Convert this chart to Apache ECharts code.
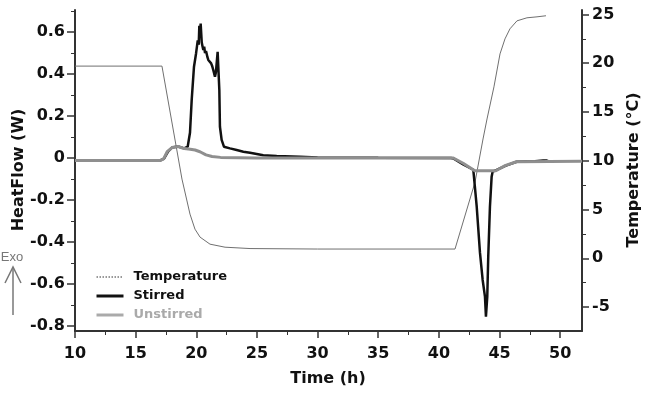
<!DOCTYPE html>
<html>
<head>
<meta charset="utf-8">
<script src="https://cdn.jsdelivr.net/npm/echarts@6/dist/echarts.min.js"></script>
<style>html,body{margin:0;padding:0;background:#fff}#c{width:650px;height:394px}</style>
</head>
<body>
<div id="c"></div>
<script>
// ---- data ----
var tempTime  = [10, 17.17, 18.82, 19.48, 19.89, 20.31, 21.13, 22.37, 24.43, 30, 41.33, 42.98, 43.64, 43.97, 44.54, 45.04, 45.45, 45.86, 46.44, 47.26, 48.09, 48.83];
var tempValue = [19.7, 19.7, 8.12, 4.53, 2.99, 2.17, 1.45, 1.14, 1.0, 0.95, 0.95, 7.81, 12.23, 14.28, 17.57, 20.95, 22.49, 23.52, 24.34, 24.65, 24.75, 24.86];

var stirredTime = [10, 17.0, 17.34, 17.67, 18.0, 18.5, 19.0, 19.29, 19.48, 19.62, 19.81, 19.98, 20.12, 20.2, 20.25, 20.3, 20.36, 20.45, 20.52, 20.58, 20.65, 20.72, 20.8, 20.86, 20.92, 20.99, 21.1, 21.21, 21.3, 21.4, 21.54, 21.62, 21.68, 21.76, 21.85, 21.9, 21.95, 22.09, 22.28, 22.78, 23.33, 23.88, 24.43, 24.98, 25.52, 26.63, 28.55, 30, 35, 41.0, 41.19, 42.0, 42.84, 42.89, 43.12, 43.39, 43.61, 43.80, 43.88, 43.99, 44.07, 44.21, 44.35, 44.43, 44.76, 45.53, 46.41, 47.92, 48.6, 48.75, 48.9, 49.0];
var stirredFlow = [-0.012, -0.012, -0.003, 0.03, 0.05, 0.055, 0.046, 0.054, 0.12, 0.276, 0.435, 0.498, 0.56, 0.54, 0.63, 0.58, 0.64, 0.55, 0.53, 0.515, 0.53, 0.5, 0.51, 0.495, 0.48, 0.467, 0.47, 0.452, 0.44, 0.419, 0.387, 0.41, 0.419, 0.506, 0.5, 0.324, 0.149, 0.086, 0.054, 0.046, 0.038, 0.03, 0.025, 0.019, 0.013, 0.01, 0.006, 0.003, 0.001, 0.0, -0.002, -0.03, -0.056, -0.065, -0.232, -0.452, -0.581, -0.66, -0.756, -0.66, -0.47, -0.232, -0.089, -0.065, -0.057, -0.036, -0.018, -0.015, -0.012, -0.004, -0.012, -0.015];

var unstirredTime = [10, 17.0, 17.3, 17.6, 18.0, 18.5, 19.0, 19.5, 19.9, 20.3, 20.8, 21.3, 22.0, 25, 30, 35, 41.0, 41.19, 42.0, 42.8, 43.0, 44.7, 45.5, 46.4, 51.8];
var unstirredFlow = [-0.012, -0.012, -0.004, 0.03, 0.05, 0.055, 0.045, 0.042, 0.038, 0.03, 0.015, 0.007, 0.003, 0.0, 0.0, 0.0, 0.0, 0.0, -0.025, -0.055, -0.061, -0.061, -0.035, -0.018, -0.016];

var xTicks = [10, 15, 20, 25, 30, 35, 40, 45, 50];
var xMinorTicks = [12.5, 17.5, 22.5, 27.5, 32.5, 37.5, 42.5, 47.5];
var flowTicks = [-0.8, -0.6, -0.4, -0.2, 0, 0.2, 0.4, 0.6];
var flowMinorTicks = [-0.7, -0.5, -0.3, -0.1, 0.1, 0.3, 0.5, 0.7];
var tempTicks = [-5, 0, 5, 10, 15, 20, 25];
var tempMinorTicks = [-7.5, -2.5, 2.5, 7.5, 12.5, 17.5, 22.5];

function zip(a, b) { return a.map(function (v, i) { return [v, b[i]]; }); }

var FONT = 'DejaVu Sans';
var AX = '#333';
var X_MIN = 10, X_MAX = 51.8, F_MIN = -0.824, F_MAX = 0.705, T_MIN = -7.45, T_MAX = 25.45;
var LABEL = { fontFamily: FONT, fontWeight: 'bold', fontSize: 16, color: '#111' };

var chart = echarts.init(document.getElementById('c'), null, { renderer: 'canvas' });
chart.setOption({
  animation: false,
  backgroundColor: '#fff',
  grid: { left: 75, right: 68, top: 10, bottom: 63 },
  xAxis: [
    {
      type: 'value', min: X_MIN, max: X_MAX, position: 'bottom',
      axisLine: { show: true, onZero: false, lineStyle: { color: AX, width: 2 } },
      axisTick: { show: true, customValues: xTicks, length: 7, lineStyle: { color: AX, width: 1.5 } },
      axisLabel: Object.assign({ customValues: xTicks, margin: 15 }, LABEL),
      splitLine: { show: false }
    },
    {
      type: 'value', min: X_MIN, max: X_MAX, position: 'bottom',
      axisLine: { show: false, onZero: false },
      axisTick: { show: true, customValues: xMinorTicks, length: 4, lineStyle: { color: AX, width: 1 } },
      axisLabel: { show: false }, splitLine: { show: false }
    }
  ],
  yAxis: [
    {
      type: 'value', min: F_MIN, max: F_MAX, position: 'left',
      axisLine: { show: true, onZero: false, lineStyle: { color: AX, width: 2 } },
      axisTick: { show: true, customValues: flowTicks, length: 8, lineStyle: { color: AX, width: 1.5 } },
      axisLabel: Object.assign({ customValues: flowTicks, margin: 10,
        formatter: function (v) { return Math.abs(v) < 1e-9 ? '0' : v.toFixed(1); } }, LABEL),
      splitLine: { show: false }
    },
    {
      type: 'value', min: T_MIN, max: T_MAX, position: 'right',
      axisLine: { show: true, onZero: false, lineStyle: { color: AX, width: 2 } },
      axisTick: { show: true, customValues: tempTicks, length: 7, lineStyle: { color: AX, width: 1.5 } },
      axisLabel: Object.assign({ customValues: tempTicks, margin: 10 }, LABEL),
      splitLine: { show: false }
    },
    {
      type: 'value', min: F_MIN, max: F_MAX, position: 'left',
      axisLine: { show: false, onZero: false },
      axisTick: { show: true, customValues: flowMinorTicks, length: 4, lineStyle: { color: AX, width: 1 } },
      axisLabel: { show: false }, splitLine: { show: false }
    },
    {
      type: 'value', min: T_MIN, max: T_MAX, position: 'right',
      axisLine: { show: false, onZero: false },
      axisTick: { show: true, customValues: tempMinorTicks, length: 4, lineStyle: { color: AX, width: 1 } },
      axisLabel: { show: false }, splitLine: { show: false }
    }
  ],
  legend: {
    orient: 'vertical', left: 90, top: 265,
    itemWidth: 27, itemHeight: 10, itemGap: 5,
    itemStyle: { opacity: 0 },
    textStyle: { fontFamily: FONT, fontWeight: 'bold', fontSize: 13, color: '#111', padding: [0, 0, 0, 5], lineHeight: 14 },
    data: [
      { name: 'Temperature', lineStyle: { type: [1.5, 1.5], width: 1, color: '#333' } },
      { name: 'Stirred', lineStyle: { width: 3, color: '#111' } },
      { name: 'Unstirred', lineStyle: { width: 3, color: '#aaa' }, textStyle: { color: '#aaa' } }
    ]
  },
  series: [
    { name: 'Temperature', type: 'line', xAxisIndex: 0, yAxisIndex: 1, symbol: 'none', z: 1,
      lineStyle: { color: '#707070', width: 1 }, itemStyle: { color: '#707070' },
      data: zip(tempTime, tempValue) },
    { name: 'Stirred', type: 'line', xAxisIndex: 0, yAxisIndex: 0, symbol: 'none', z: 2,
      lineStyle: { color: '#111', width: 2.5 }, itemStyle: { color: '#111' },
      data: zip(stirredTime, stirredFlow) },
    { name: 'Unstirred', type: 'line', xAxisIndex: 0, yAxisIndex: 0, symbol: 'none', z: 3,
      lineStyle: { color: '#8f8f8f', width: 3 }, itemStyle: { color: '#8f8f8f' },
      data: zip(unstirredTime, unstirredFlow) }
  ],
  graphic: [
    { type: 'text', x: 19, y: 170, rotation: Math.PI / 2,
      style: { text: 'HeatFlow (W)', font: 'bold 16px "DejaVu Sans"', fill: '#111', align: 'center', verticalAlign: 'middle' } },
    { type: 'text', x: 634, y: 170, rotation: Math.PI / 2,
      style: { text: 'Temperature (°C)', font: 'bold 16px "DejaVu Sans"', fill: '#111', align: 'center', verticalAlign: 'middle' } },
    { type: 'text', x: 328, y: 379,
      style: { text: 'Time (h)', font: 'bold 16px "DejaVu Sans"', fill: '#111', align: 'center', verticalAlign: 'middle' } },
    { type: 'text', x: 12, y: 257,
      style: { text: 'Exo', font: '13px "Liberation Sans"', fill: '#777', align: 'center', verticalAlign: 'middle' } },
    { type: 'line', shape: { x1: 13, y1: 315, x2: 13, y2: 267 }, style: { stroke: '#777', lineWidth: 1.5 } },
    { type: 'polyline', shape: { points: [[5, 283], [13, 267], [21, 283]] }, style: { stroke: '#777', lineWidth: 1.5, fill: null } }
  ]
});
</script>
</body>
</html>
